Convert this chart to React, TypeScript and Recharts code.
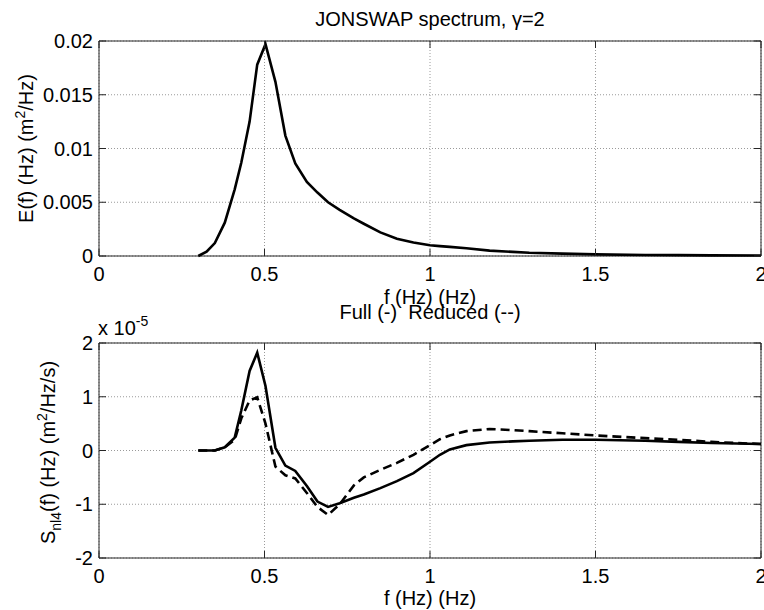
import {CartesianGrid, Label, Line, LineChart, ReferenceArea, XAxis, YAxis} from "recharts";

// frequency grid (Hz)
const freq = [0.3, 0.325, 0.35, 0.38, 0.41, 0.43, 0.455, 0.478, 0.503, 0.533, 0.563, 0.593, 0.628, 0.66, 0.692, 0.727, 0.77, 0.8, 0.85, 0.9, 0.95, 1.0, 1.03, 1.06, 1.11, 1.18, 1.25, 1.3, 1.4, 1.5, 1.65, 1.75, 1.85, 2.0];
// E(f) in m^2/Hz
const energy = [0, 0.0004, 0.0012, 0.0031, 0.0062, 0.0087, 0.0125, 0.0178, 0.0197, 0.0162, 0.0112, 0.0086, 0.0069, 0.0059, 0.005, 0.0043, 0.0035, 0.003, 0.0022, 0.0016, 0.00125, 0.001, 0.00092, 0.00085, 0.00072, 0.0005, 0.00038, 0.0003, 0.00022, 0.00015, 0.0001, 0.00008, 0.00006, 0.00005];
// Snl4 in units of 1e-5
const snlFull = [0, 0, 0, 0.06, 0.24, 0.75, 1.48, 1.82, 1.2, 0.05, -0.28, -0.38, -0.66, -0.95, -1.05, -0.98, -0.88, -0.82, -0.7, -0.57, -0.42, -0.21, -0.08, 0.02, 0.1, 0.15, 0.17, 0.18, 0.2, 0.2, 0.18, 0.16, 0.14, 0.12];
const snlReduced = [0, 0, 0, 0.06, 0.2, 0.6, 0.93, 0.99, 0.5, -0.3, -0.46, -0.52, -0.79, -1.05, -1.2, -1.0, -0.65, -0.5, -0.36, -0.23, -0.08, 0.1, 0.21, 0.28, 0.36, 0.4, 0.38, 0.36, 0.32, 0.28, 0.23, 0.2, 0.16, 0.12];

const xTicks = [0, 0.5, 1, 1.5, 2];
const eTicks = [0, 0.005, 0.01, 0.015, 0.02];
const sTicks = [-2, -1, 0, 1, 2];

const FONT = '"Liberation Sans", Arial, Helvetica, sans-serif';
const FS = 20;
const AX = "#262626";
const PLOT_W = 662;
const PLOT_H = 215;
const TICK_LEN = 7;
const X_MARGIN = 11;
const Y_MARGIN = 6;

const rows = freq.map((f, i) => ({f, e: energy[i], full: snlFull[i], reduced: snlReduced[i]}));

const XTick = ({x, y, payload}: any) => {
    const base = y - X_MARGIN;
    return (
        <g>
            <line x1={x} x2={x} y1={base} y2={base - TICK_LEN} stroke={AX}/>
            <line x1={x} x2={x} y1={base - PLOT_H} y2={base - PLOT_H + TICK_LEN} stroke={AX}/>
            <text x={x} y={y} dy="0.72em" textAnchor="middle" fontSize={FS} fontFamily={FONT} fill="#000">
                {String(payload.value)}
            </text>
        </g>
    );
};

const YTick = ({x, y, payload}: any) => {
    const base = x + Y_MARGIN;
    return (
        <g>
            <line x1={base} x2={base + TICK_LEN} y1={y} y2={y} stroke={AX}/>
            <line x1={base + PLOT_W} x2={base + PLOT_W - TICK_LEN} y1={y} y2={y} stroke={AX}/>
            <text x={x} y={y} dy="0.36em" textAnchor="end" fontSize={FS} fontFamily={FONT} fill="#000">
                {String(payload.value)}
            </text>
        </g>
    );
};

const xLabel = (dy: number) => ({viewBox}: any) => (
    <text x={viewBox.x + viewBox.width / 2} y={viewBox.y + dy} textAnchor="middle" fontSize={FS} fontFamily={FONT} fill="#000">
        f (Hz) (Hz)
    </text>
);

const energyLabel = ({viewBox}: any) => {
    const cx = 33;
    const cy = viewBox.y + viewBox.height / 2;
    return (
        <text x={cx} y={cy} transform={`rotate(-90, ${cx}, ${cy})`} textAnchor="middle" fontSize={FS} fontFamily={FONT} fill="#000">
            E(f) (Hz) (m<tspan dy={-8} fontSize={14}>2</tspan><tspan dy={8}>/Hz)</tspan>
        </text>
    );
};

const snlLabel = ({viewBox}: any) => {
    const cx = 55;
    const cy = viewBox.y + viewBox.height / 2 + 2;
    return (
        <text x={cx} y={cy} transform={`rotate(-90, ${cx}, ${cy})`} textAnchor="middle" fontSize={FS} fontFamily={FONT} fill="#000">
            S<tspan dy={6} fontSize={14}>nl4</tspan><tspan dy={-6}>(f) (Hz) (m</tspan><tspan dy={-8} fontSize={14}>2</tspan><tspan dy={8}>/Hz/s)</tspan>
        </text>
    );
};

const topTitle = ({viewBox}: any) => (
    <text x={viewBox.x + viewBox.width / 2} y={viewBox.y - 15} textAnchor="middle" fontSize={FS} fontFamily={FONT} fill="#000">
        JONSWAP spectrum, γ=2
    </text>
);

const bottomTitle = ({viewBox}: any) => (
    <g>
        <text x={viewBox.x + viewBox.width / 2} y={viewBox.y - 24} textAnchor="middle" fontSize={FS} fontFamily={FONT} fill="#000" style={{whiteSpace: "pre"}}>
            {"Full (-)  Reduced (--)"}
        </text>
        <text x={viewBox.x - 1} y={viewBox.y - 8} fontSize={FS} fontFamily={FONT} fill="#000">
            x 10<tspan dy={-9} fontSize={14}>-5</tspan>
        </text>
    </g>
);

const App = (): React.JSX.Element => {
    return (
        <div style={{position: "absolute", left: 0, top: 0, width: 764, height: 610, background: "#fff", overflow: "hidden"}}>
            <div style={{position: "absolute", left: 0, top: 0}}>
                <LineChart width={764} height={312} data={rows} margin={{top: 41, right: 3, bottom: 0, left: 0}}>
                    <CartesianGrid stroke="#9a9a9a" strokeDasharray="1 2"/>
                    <XAxis dataKey="f" type="number" domain={[0, 2]} ticks={xTicks} interval={0} height={56}
                           tickSize={0} tickLine={false} tickMargin={X_MARGIN} axisLine={false} tick={XTick}>
                        <Label content={xLabel(48)}/>
                    </XAxis>
                    <YAxis type="number" domain={[0, 0.02]} ticks={eTicks} interval={0} width={99}
                           tickSize={0} tickLine={false} tickMargin={Y_MARGIN} axisLine={false} tick={YTick}>
                        <Label content={energyLabel}/>
                    </YAxis>
                    <ReferenceArea x1={0} x2={2} y1={0} y2={0.02} fill="none" fillOpacity={0} stroke={AX} strokeWidth={1}>
                        <Label content={topTitle}/>
                    </ReferenceArea>
                    <Line dataKey="e" type="linear" stroke="#000" strokeWidth={2.6} dot={false} activeDot={false} isAnimationActive={false}/>
                </LineChart>
            </div>
            <div style={{position: "absolute", left: 0, top: 300}}>
                <LineChart width={764} height={310} data={rows} margin={{top: 43, right: 3, bottom: 0, left: 0}}>
                    <CartesianGrid stroke="#9a9a9a" strokeDasharray="1 2"/>
                    <XAxis dataKey="f" type="number" domain={[0, 2]} ticks={xTicks} interval={0} height={52}
                           tickSize={0} tickLine={false} tickMargin={X_MARGIN} axisLine={false} tick={XTick}>
                        <Label content={xLabel(47)}/>
                    </XAxis>
                    <YAxis type="number" domain={[-2, 2]} ticks={sTicks} interval={0} width={99}
                           tickSize={0} tickLine={false} tickMargin={Y_MARGIN} axisLine={false} tick={YTick}>
                        <Label content={snlLabel}/>
                    </YAxis>
                    <ReferenceArea x1={0} x2={2} y1={-2} y2={2} fill="none" fillOpacity={0} stroke={AX} strokeWidth={1}>
                        <Label content={bottomTitle}/>
                    </ReferenceArea>
                    <Line dataKey="full" type="linear" stroke="#000" strokeWidth={2.6} dot={false} activeDot={false} isAnimationActive={false}/>
                    <Line dataKey="reduced" type="linear" stroke="#000" strokeWidth={2.6} strokeDasharray="9 5" dot={false} activeDot={false} isAnimationActive={false}/>
                </LineChart>
            </div>
        </div>
    );
};

export default App;
